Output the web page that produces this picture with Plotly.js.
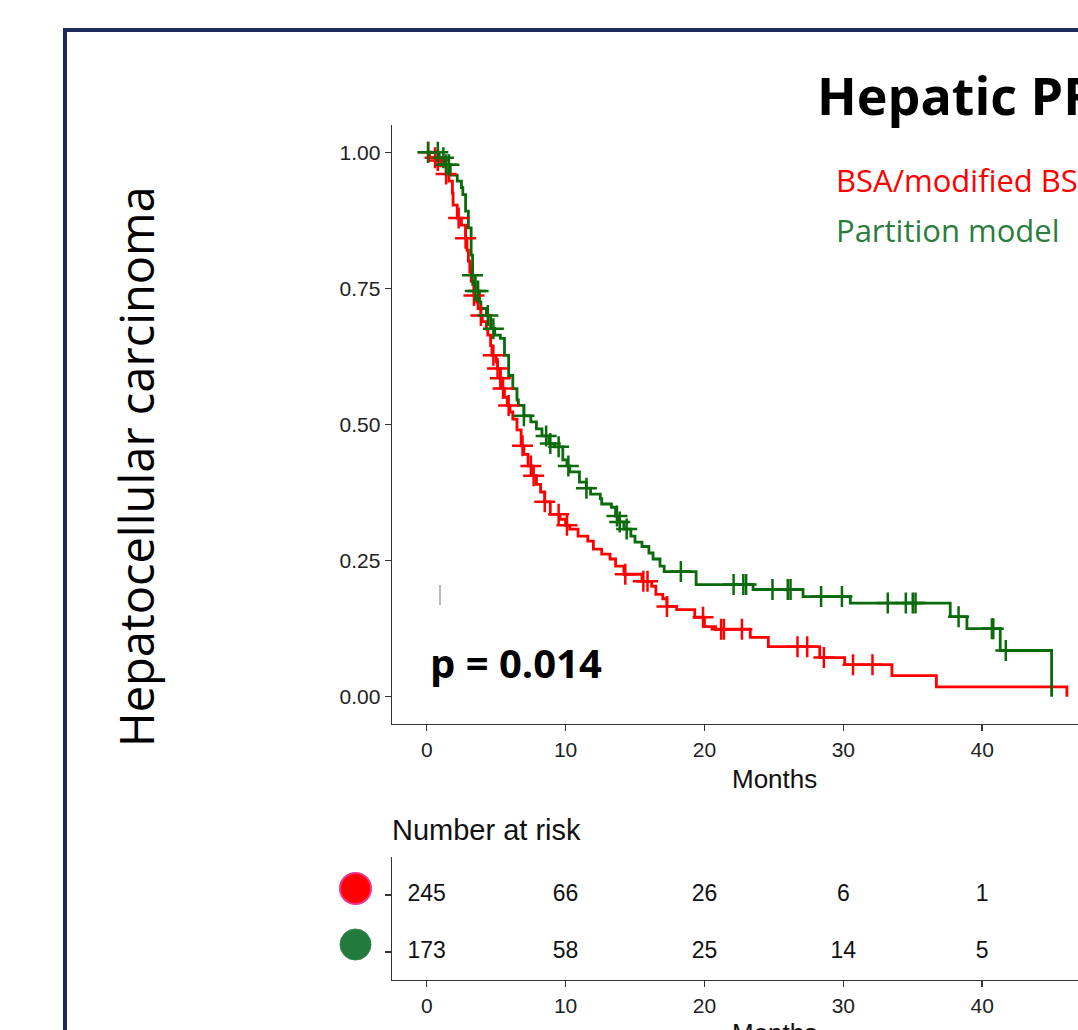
<!DOCTYPE html>
<html>
<head>
<meta charset="utf-8">
<script src="https://cdn.plot.ly/plotly-3.0.1.min.js"></script>
<style>
html,body{margin:0;padding:0;background:#fff;overflow:hidden;}
#chart{width:1078px;height:1030px;}
</style>
</head>
<body>
<div id="chart"></div>
<script>
// ---------- data ----------
const redTime = [0, 0.2, 0.7, 1.0, 1.4, 1.6, 1.85, 1.9, 2.2, 2.5, 2.8, 2.9, 3.0, 3.1, 3.2, 3.4, 3.6, 3.7, 3.9, 4.0, 4.3, 4.4, 4.6, 4.7, 5.0, 5.1, 5.3, 5.4, 5.6, 5.8, 6.0, 6.2, 6.5, 6.8, 7.0, 7.3, 7.6, 7.9, 8.2, 8.5, 8.9, 9.6, 10.0, 10.3, 10.9, 11.6, 12.0, 12.6, 13.2, 13.6, 14.2, 15.5, 16.2, 16.5, 17.0, 17.3, 18.0, 19.3, 20.0, 20.8, 23.3, 24.6, 28.3, 30.1, 33.5, 36.7, 46.1];
const redSurv = [1.0, 0.99, 0.985, 0.975, 0.96, 0.947, 0.925, 0.903, 0.879, 0.866, 0.842, 0.82, 0.80, 0.78, 0.763, 0.737, 0.725, 0.713, 0.70, 0.689, 0.675, 0.664, 0.645, 0.627, 0.615, 0.603, 0.585, 0.566, 0.55, 0.535, 0.523, 0.51, 0.49, 0.461, 0.445, 0.424, 0.406, 0.39, 0.376, 0.358, 0.335, 0.326, 0.315, 0.308, 0.295, 0.286, 0.271, 0.262, 0.253, 0.24, 0.225, 0.212, 0.203, 0.188, 0.18, 0.166, 0.16, 0.146, 0.129, 0.124, 0.109, 0.092, 0.072, 0.059, 0.039, 0.018, 0.0];
const redCensorTime = [0.1, 0.6, 0.8, 1.4, 2.3, 2.8, 3.4, 3.9, 4.8, 5.1, 5.3, 5.5, 5.9, 6.9, 7.5, 7.7, 8.5, 9.5, 10.1, 14.3, 15.6, 15.9, 17.3, 19.9, 21.2, 21.4, 22.7, 26.7, 27.4, 28.6, 30.7, 32.1];

const greenTime = [0, 0.9, 1.3, 1.7, 2.2, 2.5, 2.6, 2.8, 3.0, 3.2, 3.3, 3.5, 3.8, 3.9, 4.3, 4.6, 4.9, 5.3, 5.6, 5.9, 6.2, 6.5, 6.6, 7.0, 7.5, 7.9, 8.3, 8.8, 9.2, 9.8, 10.1, 10.3, 11.0, 11.5, 11.8, 12.5, 12.6, 13.3, 13.6, 13.8, 14.2, 14.7, 15.0, 15.5, 16.0, 16.3, 16.8, 17.1, 19.4, 23.5, 27.1, 30.5, 37.7, 38.9, 41.3, 45.0];
const greenSurv = [1.0, 0.99, 0.977, 0.958, 0.947, 0.935, 0.922, 0.892, 0.861, 0.811, 0.774, 0.745, 0.725, 0.713, 0.70, 0.676, 0.664, 0.658, 0.627, 0.59, 0.566, 0.545, 0.535, 0.516, 0.505, 0.492, 0.479, 0.465, 0.459, 0.435, 0.424, 0.413, 0.394, 0.383, 0.372, 0.364, 0.354, 0.348, 0.332, 0.321, 0.308, 0.295, 0.284, 0.276, 0.264, 0.253, 0.24, 0.23, 0.206, 0.197, 0.184, 0.172, 0.147, 0.125, 0.085, 0.0];
const greenCensorTime = [0.1, 0.8, 1.2, 1.4, 1.6, 3.3, 3.5, 3.7, 4.4, 4.8, 7.0, 8.6, 8.9, 9.5, 10.2, 11.5, 13.7, 13.9, 14.4, 18.3, 22.1, 22.8, 23.0, 24.9, 26.0, 26.2, 28.4, 29.9, 33.2, 34.5, 35.0, 35.2, 38.3, 40.7, 40.8, 41.7];

const riskTimes = [0, 10, 20, 30, 40];
const riskRed = [245, 66, 26, 6, 1];
const riskGreen = [173, 58, 25, 14, 5];
const xTicks = [0, 10, 20, 30, 40];
const yTicks = [0, 0.25, 0.5, 0.75, 1];
const yTickText = ['0.00', '0.25', '0.50', '0.75', '1.00'];

const redName = 'BSA/modified BSA';
const greenName = 'Partition model';
const titleText = 'Hepatic PFS';
const yTitleText = 'Hepatocellular carcinoma';
const pText = 'p = 0.014';

// survival at time t from a step function (censor marks sit on the curve)
function survAt(times, surv, t) {
  let s = surv[0];
  for (let i = 0; i < times.length; i++) { if (times[i] <= t) s = surv[i]; }
  return s;
}

// ---------- styling ----------
const RED = '#ff0000';
const GREEN = '#0b6a0b';
const W = 1078, H = 1030;
const PX = v => v / W;
const PY = v => 1 - v / H;
const AX = '#333333';
const tickFont = {family: 'Liberation Sans, Arial, sans-serif', size: 21, color: '#222222'};

const traces = [
  {x: redTime, y: redSurv, type: 'scatter', mode: 'lines', line: {shape: 'hv', color: RED, width: 2.8}, name: redName, xaxis: 'x', yaxis: 'y', hoverinfo: 'skip'},
  {x: greenTime, y: greenSurv, type: 'scatter', mode: 'lines', line: {shape: 'hv', color: GREEN, width: 2.8}, name: greenName, xaxis: 'x', yaxis: 'y', hoverinfo: 'skip'},
  {x: redCensorTime, y: redCensorTime.map(t => survAt(redTime, redSurv, t)), type: 'scatter', mode: 'markers',
   marker: {symbol: 'cross-thin', size: 15, line: {color: RED, width: 2.5}}, xaxis: 'x', yaxis: 'y', hoverinfo: 'skip'},
  {x: greenCensorTime, y: greenCensorTime.map(t => survAt(greenTime, greenSurv, t)), type: 'scatter', mode: 'markers',
   marker: {symbol: 'cross-thin', size: 15, line: {color: GREEN, width: 2.5}}, xaxis: 'x', yaxis: 'y', hoverinfo: 'skip'},
  {x: riskTimes, y: riskTimes.map(() => 2), text: riskRed.map(String), type: 'scatter', mode: 'text',
   textfont: {family: 'Liberation Sans, Arial, sans-serif', size: 23, color: '#111'}, xaxis: 'x2', yaxis: 'y2', hoverinfo: 'skip', cliponaxis: false},
  {x: riskTimes, y: riskTimes.map(() => 1), text: riskGreen.map(String), type: 'scatter', mode: 'text',
   textfont: {family: 'Liberation Sans, Arial, sans-serif', size: 23, color: '#111'}, xaxis: 'x2', yaxis: 'y2', hoverinfo: 'skip', cliponaxis: false}
];

const axisCommon = {
  showgrid: false, zeroline: false, showline: true, linecolor: AX, linewidth: 1.4,
  ticks: 'outside', ticklen: 6, tickwidth: 1.4, tickcolor: AX, tickfont: tickFont, automargin: false
};

const layout = {
  width: W, height: H,
  margin: {l: 0, r: 0, t: 0, b: 0, pad: 0},
  paper_bgcolor: '#ffffff', plot_bgcolor: '#ffffff',
  showlegend: false,
  xaxis: Object.assign({}, axisCommon, {domain: [PX(392), 1], range: [-2.5, 46.9], tickvals: xTicks, anchor: 'y'}),
  yaxis: Object.assign({}, axisCommon, {domain: [PY(724), PY(125)], range: [-0.05, 1.05], tickvals: yTicks, ticktext: yTickText, anchor: 'x'}),
  xaxis2: Object.assign({}, axisCommon, {domain: [PX(392), 1], range: [-2.5, 46.9], tickvals: xTicks, anchor: 'y2'}),
  yaxis2: Object.assign({}, axisCommon, {domain: [PY(980), PY(857)], range: [0.51, 2.667], tickvals: [1, 2], showticklabels: false, anchor: 'x2'}),
  shapes: [
    {type: 'rect', xref: 'paper', yref: 'paper', x0: PX(65), x1: PX(1200), y0: PY(30), y1: PY(1200),
     line: {color: '#1c2a5c', width: 4}, fillcolor: 'rgba(0,0,0,0)', layer: 'below'},
    {type: 'circle', xref: 'paper', yref: 'paper', x0: PX(340), x1: PX(371), y0: PY(904), y1: PY(873),
     fillcolor: '#ff0000', line: {color: '#e8358f', width: 2}},
    {type: 'circle', xref: 'paper', yref: 'paper', x0: PX(340), x1: PX(371), y0: PY(960), y1: PY(929),
     fillcolor: '#237a3d', line: {color: '#2e8a48', width: 1}},
    {type: 'line', xref: 'paper', yref: 'paper', x0: PX(440), x1: PX(440), y0: PY(585), y1: PY(605),
     line: {color: '#8a8a8a', width: 1.2}}
  ],
  annotations: [
    {text: '<b>' + titleText + '</b>', xref: 'paper', yref: 'paper', x: PX(815), y: PY(94), xanchor: 'left', yanchor: 'middle',
     showarrow: false, font: {family: 'Open Sans, sans-serif', size: 52, color: '#000'}},
    {text: redName, xref: 'paper', yref: 'paper', x: PX(834), y: PY(180), xanchor: 'left', yanchor: 'middle',
     showarrow: false, font: {family: 'Open Sans, sans-serif', size: 31, color: '#ff0000'}},
    {text: greenName, xref: 'paper', yref: 'paper', x: PX(834), y: PY(230), xanchor: 'left', yanchor: 'middle',
     showarrow: false, font: {family: 'Open Sans, sans-serif', size: 31, color: '#2a7d3c'}},
    {text: yTitleText, xref: 'paper', yref: 'paper', x: PX(136), y: PY(467), xanchor: 'center', yanchor: 'middle', textangle: -90,
     showarrow: false, font: {family: 'Open Sans, sans-serif', size: 47, color: '#000'}},
    {text: '<b>' + pText + '</b>', xref: 'paper', yref: 'paper', x: PX(428), y: PY(662), xanchor: 'left', yanchor: 'middle',
     showarrow: false, font: {family: 'Open Sans, sans-serif', size: 40, color: '#000'}},
    {text: 'Months', xref: 'paper', yref: 'paper', x: PX(774), y: PY(779), xanchor: 'center', yanchor: 'middle',
     showarrow: false, font: {family: 'Liberation Sans, Arial, sans-serif', size: 26, color: '#111'}},
    {text: 'Number at risk', xref: 'paper', yref: 'paper', x: PX(390), y: PY(830), xanchor: 'left', yanchor: 'middle',
     showarrow: false, font: {family: 'Liberation Sans, Arial, sans-serif', size: 29, color: '#111'}},
    {text: 'Months', xref: 'paper', yref: 'paper', x: PX(774), y: PY(1016), xanchor: 'center', yanchor: 'top',
     showarrow: false, font: {family: 'Liberation Sans, Arial, sans-serif', size: 26, color: '#111'}}
  ]
};

Plotly.newPlot('chart', traces, layout, {displayModeBar: false, staticPlot: true});
</script>
</body>
</html>
